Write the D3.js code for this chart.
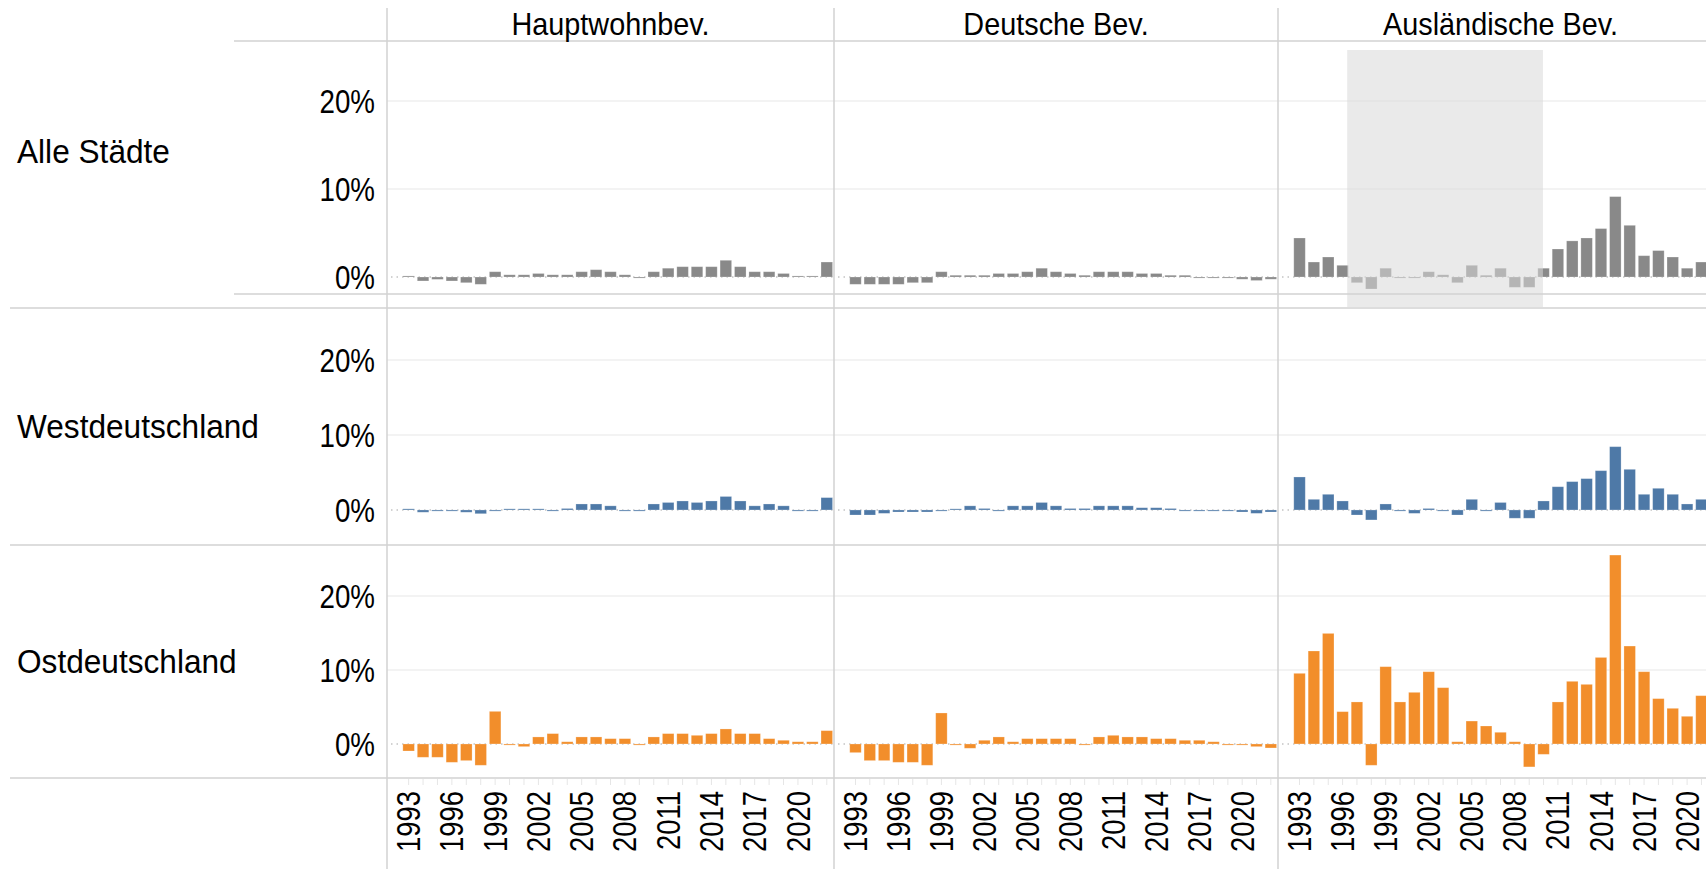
<!DOCTYPE html>
<html>
<head>
<meta charset="utf-8">
<script src="https://cdn.jsdelivr.net/npm/d3@7"></script>
<style>
  body { margin: 0; background: #fff; }
  svg { display: block; font-family: "Liberation Sans", Arial, sans-serif; }
</style>
</head>
<body>
<div id="chart"></div>
<script>

// ---- data ----
const years = [1993,1994,1995,1996,1997,1998,1999,2000,2001,2002,2003,2004,2005,2006,2007,
               2008,2009,2010,2011,2012,2013,2014,2015,2016,2017,2018,2019,2020,2021,2022];
const yearLabels = [1993,1996,1999,2002,2005,2008,2011,2014,2017,2020];
const columns = ["Hauptwohnbev.", "Deutsche Bev.", "Ausländische Bev."];
const rowNames = ["Alle Städte", "Westdeutschland", "Ostdeutschland"];
const yTicks = [0, 10, 20];
const rowColors = ["#898989", "#4e79a7", "#f28e2b"];

// change to previous year in %
const alleHaupt   = [0.12,-0.45,-0.27,-0.45,-0.65,-0.83,0.6,0.25,0.25,0.4,0.25,0.25,0.6,0.83,0.6,0.25,-0.12,0.6,1.0,1.17,1.17,1.17,1.9,1.17,0.6,0.6,0.4,0.12,0.12,1.7];
const alleDeutsch = [-0.83,-0.83,-0.83,-0.83,-0.65,-0.65,0.6,0.2,0.2,0.2,0.4,0.4,0.6,1.0,0.6,0.4,0.2,0.6,0.6,0.6,0.4,0.4,0.2,0.2,-0.12,-0.12,-0.12,-0.25,-0.4,-0.25];
const alleAusl    = [4.43,1.7,2.27,1.33,-0.65,-1.36,1.0,-0.12,-0.12,0.6,0.25,-0.65,1.33,0.2,1.0,-1.17,-1.17,1.0,3.18,4.1,4.43,5.5,9.13,5.87,2.42,3.0,2.27,1.0,1.7];

const westHaupt   = [0.15,-0.3,-0.15,-0.15,-0.3,-0.5,-0.15,0.15,0.15,0.15,-0.15,0.2,0.8,0.8,0.55,-0.15,-0.15,0.8,1.0,1.2,1.0,1.2,1.8,1.2,0.55,0.8,0.55,-0.15,-0.15,1.65];
const westDeutsch = [-0.67,-0.67,-0.45,-0.27,-0.27,-0.27,-0.15,0.15,0.55,0.2,-0.15,0.55,0.55,1.0,0.55,0.2,0.2,0.55,0.55,0.55,0.3,0.3,0.2,-0.15,-0.15,-0.15,-0.15,-0.27,-0.45,-0.27];
const westAusl    = [4.4,1.42,2.09,1.2,-0.67,-1.33,0.8,-0.15,-0.45,0.2,-0.15,-0.67,1.42,-0.15,1.0,-1.1,-1.1,1.2,3.1,3.78,4.18,5.24,8.44,5.42,2.09,2.89,2.09,0.8,1.42];

const ostHaupt    = [-0.95,-1.8,-1.8,-2.48,-2.25,-2.88,4.41,-0.15,-0.36,0.95,1.4,0.3,0.95,0.95,0.72,0.72,-0.15,0.95,1.4,1.4,1.17,1.4,2.03,1.4,1.4,0.72,0.5,0.3,0.3,1.8];
const ostDeutsch  = [-1.17,-2.25,-2.25,-2.48,-2.48,-2.88,4.19,-0.15,-0.58,0.5,0.95,0.3,0.72,0.72,0.72,0.72,-0.15,0.95,1.17,0.95,0.95,0.72,0.72,0.5,0.5,0.3,-0.15,-0.15,-0.36,-0.54];
const ostAusl     = [9.55,12.57,14.95,4.37,5.68,-2.88,10.45,5.68,6.98,9.77,7.61,0.3,3.1,2.43,1.58,0.3,-3.1,-1.4,5.68,8.47,8.06,11.7,25.54,13.24,9.77,6.13,4.82,3.74,6.53];

// years caught in the grey selection box (Alle Städte / Ausländische Bev.)
const selectedYears = [1997, 2009];

const series = [
  [alleHaupt, alleDeutsch, alleAusl],
  [westHaupt, westDeutsch, westAusl],
  [ostHaupt, ostDeutsch, ostAusl]
];

// ---- layout ----
let width = 1706;
let height = 869;
let colLeft = [387, 834, 1278];
let colWidth = [447, 444, 445];
let rows = [
  { top: 41,  bottom: 294, labelTop: 8,   domain: [-1.93, 26.8] },
  { top: 308, bottom: 545, labelTop: 308, domain: [-4.67, 26.93] },
  { top: 545, bottom: 778, labelTop: 545, domain: [-4.6, 26.9] }
];
let lineColor = "#d2d2d2";
let textColor = "#000";

let svg = d3.select('#chart')
  .append("svg")
  .attr("width", width)
  .attr("height", height);

// one empty leading slot before 1993, like the original axis
let slots = [""].concat(years);

let gridLayer = svg.append("g");
let barLayer = svg.append("g");
let overLayer = svg.append("g");
let lineLayer = svg.append("g");
let textLayer = svg.append("g");

rowNames.forEach(function(name, r){
  let row = rows[r];
  let y = d3.scaleLinear().domain(row.domain).range([row.bottom, row.top]);

  columns.forEach(function(col, c){
    let x = d3.scaleBand()
      .domain(slots)
      .range([colLeft[c], colLeft[c] + colWidth[c]])
      .paddingInner(0.2)
      .paddingOuter(0.1);

    // gridlines at 10% and 20%
    gridLayer.selectAll(null)
      .data(yTicks.filter(function(t){ return t > 0; }))
      .enter()
      .append("line")
        .attr("x1", colLeft[c])
        .attr("x2", colLeft[c] + colWidth[c])
        .attr("y1", function(d){ return y(d); })
        .attr("y2", function(d){ return y(d); })
        .attr("stroke", "#efefef")
        .attr("stroke-width", 1.5);

    // dotted zero line
    gridLayer.append("line")
      .attr("x1", colLeft[c] + 4)
      .attr("x2", colLeft[c] + colWidth[c])
      .attr("y1", y(0))
      .attr("y2", y(0))
      .attr("stroke", "#c4c4c4")
      .attr("stroke-width", 1.5)
      .attr("stroke-dasharray", "1.5,4");

    let values = series[r][c];
    let pts = values.map(function(v, i){ return { year: years[i], value: v }; });

    barLayer.selectAll(null)
      .data(pts)
      .enter()
      .append("rect")
        .attr("x", function(d){ return x(d.year); })
        .attr("width", x.bandwidth())
        .attr("y", function(d){ return y(Math.max(0, d.value)); })
        .attr("height", function(d){ return Math.abs(y(d.value) - y(0)); })
        .attr("fill", rowColors[r])
        .attr("stroke", "#fff")
        .attr("stroke-opacity", 0.3)
        .attr("stroke-width", 0.8);

    // selection box, drawn over the bars
    if (r === 0 && c === 2) {
      let x0 = x(selectedYears[0]) - 4;
      let x1 = x(selectedYears[1]) + x.bandwidth() + 8;
      overLayer.append("rect")
        .attr("x", x0)
        .attr("y", row.top + 9)
        .attr("width", x1 - x0)
        .attr("height", row.bottom + 13 - (row.top + 9))
        .attr("fill", "#d9d9d9")
        .attr("opacity", 0.55);
    }

    // column headers on top
    if (r === 0) {
      textLayer.append("g")
        .attr("transform", "translate(" + (colLeft[c] + colWidth[c] / 2) + ",35) scale(0.93,1)")
        .append("text")
          .attr("text-anchor", "middle")
          .attr("font-size", 31)
          .attr("fill", textColor)
          .text(col);
    }

    // year axis under last row
    if (r === rows.length - 1) {
      let tickAxis = d3.axisBottom(x).tickValues(years).tickSize(6).tickFormat("");
      lineLayer.append("g")
        .attr("transform", "translate(0,779)")
        .call(tickAxis)
        .call(function(g){ g.select(".domain").remove(); })
        .call(function(g){ g.selectAll(".tick line").attr("stroke", "#e6e6e6"); });

      let yearAxis = d3.axisBottom(x).tickValues(yearLabels).tickSize(0);
      textLayer.append("g")
        .attr("transform", "translate(0,791)")
        .call(yearAxis)
        .call(function(g){ g.select(".domain").remove(); })
        .call(function(g){
          g.selectAll(".tick text")
            .attr("x", 0)
            .attr("y", 0)
            .attr("dy", "0.35em")
            .attr("text-anchor", "end")
            .attr("transform", "rotate(-90) scale(0.83,1)")
            .attr("font-size", 33)
            .attr("font-family", "Liberation Sans, Arial, sans-serif")
            .attr("fill", textColor);
        });
    }
  });

  // y axis labels
  let yAxis = d3.axisLeft(y).tickValues(yTicks).tickSize(0).tickFormat(function(d){ return d + "%"; });
  textLayer.append("g")
    .attr("transform", "translate(375,0)")
    .call(yAxis)
    .call(function(g){ g.select(".domain").remove(); })
    .call(function(g){
      g.selectAll(".tick text")
        .attr("x", 0)
        .attr("dy", "0.35em")
        .attr("transform", "scale(0.84,1)")
        .attr("font-size", 33)
        .attr("font-family", "Liberation Sans, Arial, sans-serif")
        .attr("fill", textColor);
    });

  // row label
  textLayer.append("g")
    .attr("transform", "translate(17," + ((row.labelTop + row.bottom) / 2) + ") scale(0.93,1)")
    .append("text")
      .attr("dy", "0.35em")
      .attr("font-size", 34)
      .attr("fill", textColor)
      .text(name);
});

// ---- table borders ----
colLeft.forEach(function(cx){
  lineLayer.append("line")
    .attr("x1", cx).attr("x2", cx)
    .attr("y1", 8).attr("y2", height)
    .attr("stroke", lineColor)
    .attr("stroke-width", 1.5);
});

// header line and first row bottom start at the axis column, others span the row labels too
let hLines = [
  { y: rows[0].top, from: 234 },
  { y: rows[0].bottom, from: 234 },
  { y: rows[1].top, from: 10 },
  { y: rows[2].top, from: 10 },
  { y: rows[2].bottom, from: 10 }
];
lineLayer.selectAll(null)
  .data(hLines)
  .enter()
  .append("line")
    .attr("x1", function(d){ return d.from; })
    .attr("x2", width)
    .attr("y1", function(d){ return d.y; })
    .attr("y2", function(d){ return d.y; })
    .attr("stroke", lineColor)
    .attr("stroke-width", 1.5);

</script>
</body>
</html>
